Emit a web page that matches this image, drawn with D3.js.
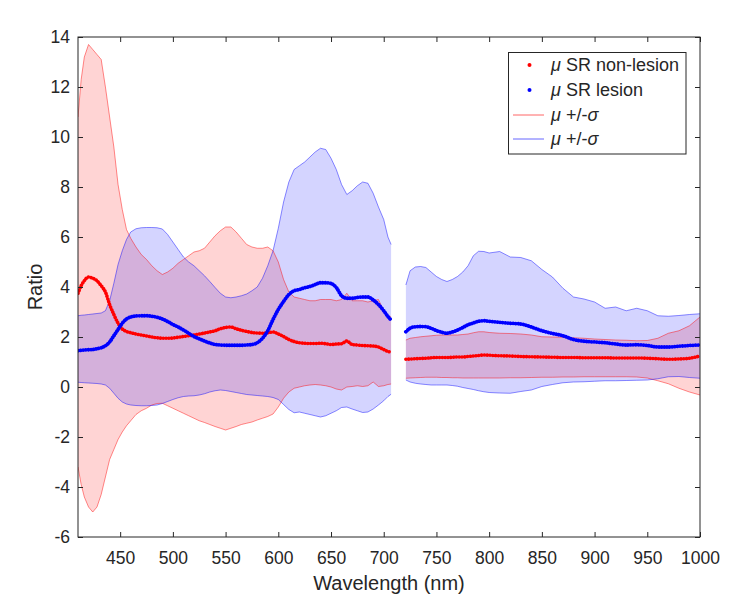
<!DOCTYPE html>
<html><head><meta charset="utf-8">
<script src="https://cdn.jsdelivr.net/npm/d3@7"></script>
<style>
body{margin:0;background:#fff}
svg{display:block}
text{font-family:Arial,"Liberation Sans",Helvetica,sans-serif;fill:#262626}
</style>
</head><body><svg id="c" width="754" height="613"></svg>
<script>
// ---- data ----
const wavelengthA = [410,413,416,420,424,428,432,436,440,444,448,452,456,460,465,470,475,480,485,490,495,500,505,510,515,520,525,530,535,540,545,550,555,560,565,570,575,580,585,590,595,600,605,610,615,620,625,630,635,640,645,650,655,660,665,670,675,680,685,690,695,700,704,707];
const nonLesionUpperA = [10.8,12.3,13.2,13.7,13.5,13.3,13.1,12.0,10.8,9.6,8.1,7.1,6.3,5.95,5.6,5.3,5.1,4.85,4.65,4.5,4.6,4.75,4.95,5.1,5.25,5.4,5.45,5.55,5.8,6.05,6.25,6.4,6.4,6.2,5.95,5.7,5.6,5.55,5.55,5.6,5.45,5.0,4.3,3.8,3.6,3.55,3.5,3.45,3.45,3.5,3.5,3.5,3.45,3.5,3.75,3.45,3.45,3.45,3.4,3.45,3.5,3.05,2.85,2.8];
const nonLesionLowerA = [-3.2,-3.9,-4.4,-4.8,-5.0,-4.8,-4.3,-3.6,-2.9,-2.5,-2.1,-1.8,-1.55,-1.35,-1.1,-0.95,-0.85,-0.72,-0.66,-0.65,-0.75,-0.85,-0.95,-1.05,-1.15,-1.25,-1.35,-1.42,-1.5,-1.58,-1.65,-1.72,-1.65,-1.58,-1.5,-1.45,-1.4,-1.32,-1.25,-1.18,-1.08,-0.8,-0.45,-0.2,-0.05,0.0,0.05,0.08,0.1,0.08,0.05,0.0,-0.08,-0.12,0.0,0.02,0.05,0.02,0.05,0.2,0.02,0.05,0.1,0.12];
const lesionUpperA = [2.85,2.87,2.88,2.9,2.92,2.94,2.96,3.05,3.45,4.15,4.9,5.45,5.9,6.2,6.33,6.37,6.38,6.38,6.37,6.32,6.1,5.8,5.5,5.2,5.0,4.85,4.65,4.45,4.22,3.98,3.75,3.6,3.57,3.6,3.65,3.72,3.85,4.0,4.35,4.85,5.45,6.35,7.4,8.2,8.7,8.85,9.0,9.2,9.4,9.55,9.5,9.15,8.7,8.1,7.7,7.85,8.05,8.2,8.15,7.75,7.2,6.7,6.0,5.7];
const lesionLowerA = [0.19,0.18,0.17,0.16,0.15,0.14,0.12,0.08,-0.05,-0.25,-0.45,-0.6,-0.68,-0.72,-0.74,-0.75,-0.75,-0.74,-0.72,-0.66,-0.58,-0.5,-0.43,-0.38,-0.36,-0.35,-0.32,-0.27,-0.2,-0.15,-0.12,-0.14,-0.18,-0.22,-0.26,-0.3,-0.32,-0.34,-0.36,-0.38,-0.42,-0.5,-0.7,-0.9,-1.03,-1.0,-1.05,-1.1,-1.15,-1.2,-1.15,-1.05,-0.95,-0.82,-0.8,-0.88,-0.95,-1.02,-1.0,-0.88,-0.72,-0.55,-0.38,-0.29];
const nonLesionMeanA = [3.75,4.05,4.25,4.4,4.35,4.25,4.05,3.8,3.3,2.9,2.55,2.32,2.22,2.17,2.12,2.08,2.04,2.0,1.97,1.95,1.95,1.96,1.99,2.02,2.05,2.08,2.12,2.16,2.2,2.25,2.33,2.38,2.4,2.33,2.27,2.22,2.18,2.16,2.15,2.17,2.2,2.12,2.02,1.9,1.82,1.77,1.75,1.74,1.74,1.75,1.73,1.7,1.72,1.73,1.84,1.7,1.68,1.66,1.65,1.64,1.6,1.5,1.42,1.4];
const lesionMeanA = [1.45,1.47,1.48,1.49,1.5,1.53,1.57,1.65,1.8,2.05,2.3,2.55,2.72,2.8,2.84,2.85,2.85,2.83,2.79,2.72,2.62,2.5,2.4,2.28,2.15,2.02,1.93,1.84,1.76,1.7,1.68,1.67,1.67,1.67,1.67,1.68,1.7,1.77,1.95,2.25,2.7,3.1,3.42,3.7,3.85,3.9,3.97,4.02,4.1,4.17,4.17,4.14,3.98,3.65,3.55,3.55,3.58,3.6,3.6,3.48,3.3,3.05,2.82,2.68];

const wavelengthB = [721,725,730,735,740,745,750,755,760,765,770,775,780,785,790,795,800,810,820,830,840,850,860,870,880,890,900,910,920,930,940,950,960,970,980,990,1000];
const nonLesionUpperB = [1.88,1.95,1.98,2.01,2.03,2.05,2.07,2.08,2.08,2.08,2.08,2.1,2.12,2.17,2.21,2.21,2.18,2.15,2.14,2.12,2.08,2.01,2.0,1.99,1.97,1.95,1.92,1.9,1.88,1.87,1.85,1.86,1.95,2.15,2.25,2.45,2.8];
const nonLesionLowerB = [0.35,0.36,0.37,0.38,0.39,0.39,0.39,0.38,0.38,0.37,0.37,0.36,0.36,0.36,0.36,0.36,0.36,0.36,0.37,0.37,0.38,0.39,0.39,0.4,0.4,0.41,0.41,0.41,0.41,0.41,0.4,0.36,0.25,0.13,-0.05,-0.2,-0.32];
const lesionUpperB = [4.08,4.65,4.8,4.82,4.78,4.6,4.42,4.3,4.22,4.3,4.42,4.6,4.85,5.25,5.43,5.42,5.36,5.42,5.2,5.18,5.05,4.7,4.4,3.95,3.6,3.52,3.4,3.15,3.2,3.05,3.15,3.05,2.85,2.83,2.86,2.9,2.93];
const lesionLowerB = [0.28,0.2,0.15,0.12,0.1,0.08,0.08,0.08,0.08,0.06,0.03,-0.02,-0.06,-0.1,-0.15,-0.19,-0.22,-0.24,-0.25,-0.18,-0.12,0.02,0.1,0.17,0.2,0.21,0.23,0.25,0.25,0.26,0.27,0.28,0.33,0.41,0.42,0.38,0.35];
const nonLesionMeanB = [1.11,1.12,1.13,1.14,1.15,1.17,1.18,1.18,1.18,1.19,1.2,1.2,1.22,1.24,1.26,1.28,1.27,1.25,1.24,1.22,1.21,1.2,1.19,1.18,1.18,1.17,1.17,1.17,1.16,1.16,1.16,1.15,1.13,1.11,1.12,1.15,1.24];
const lesionMeanB = [2.21,2.35,2.41,2.42,2.41,2.35,2.26,2.19,2.15,2.2,2.28,2.38,2.49,2.56,2.63,2.65,2.63,2.59,2.55,2.52,2.4,2.25,2.14,2.05,1.9,1.83,1.8,1.77,1.72,1.68,1.69,1.66,1.6,1.6,1.63,1.66,1.68];

const xTicks = [450,500,550,600,650,700,750,800,850,900,950,1000];
const yTicks = [-6,-4,-2,0,2,4,6,8,10,12,14];
const legendLabels = ["SR non-lesion","SR lesion","+/-","+/-"];

// ---- build ----
const svg = d3.select("#c");
const L = 78, R = 700, T = 37, B = 537;
const x = d3.scaleLinear().domain([410,1000]).range([L,R]);
const y = d3.scaleLinear().domain([-6,14]).range([B,T]);

const RED = "#ff0000", BLUE = "#0000ff";
const rows = (wl, ru, rl, bu, bl, rm, bm) => wl.map((w,i)=>({w, ru:ru[i], rl:rl[i], bu:bu[i], bl:bl[i], rm:rm[i], bm:bm[i]}));
const segments = [
  rows(wavelengthA, nonLesionUpperA, nonLesionLowerA, lesionUpperA, lesionLowerA, nonLesionMeanA, lesionMeanA),
  rows(wavelengthB, nonLesionUpperB, nonLesionLowerB, lesionUpperB, lesionLowerB, nonLesionMeanB, lesionMeanB)
];

svg.append("defs").append("clipPath").attr("id","clip")
  .append("rect").attr("x",L).attr("y",T).attr("width",R-L).attr("height",B-T);
const g = svg.append("g").attr("clip-path","url(#clip)");

const area = (hi, lo) => d3.area().x(d=>x(d.w)).y0(d=>y(d[lo])).y1(d=>y(d[hi]));
const line = k => d3.line().x(d=>x(d.w)).y(d=>y(d[k]));

segments.forEach(seg=>{
  g.append("path").attr("d", area("ru","rl")(seg)).attr("fill",RED).attr("fill-opacity",0.17).attr("stroke","none");
});
segments.forEach(seg=>{
  g.append("path").attr("d", area("bu","bl")(seg)).attr("fill",BLUE).attr("fill-opacity",0.17).attr("stroke","none");
});
segments.forEach(seg=>{
  ["ru","rl"].forEach(k=>g.append("path").attr("d", line(k)(seg)).attr("fill","none").attr("stroke",RED).attr("stroke-opacity",0.45).attr("stroke-width",1));
  ["bu","bl"].forEach(k=>g.append("path").attr("d", line(k)(seg)).attr("fill","none").attr("stroke",BLUE).attr("stroke-opacity",0.45).attr("stroke-width",1));
});
segments.forEach(seg=>{
  g.append("path").attr("d", line("rm").curve(d3.curveMonotoneX)(seg)).attr("fill","none")
    .attr("stroke",RED).attr("stroke-width",3.6).attr("stroke-linecap","round").attr("stroke-dasharray","0.01 2.8");
});
segments.forEach(seg=>{
  g.append("path").attr("d", line("bm").curve(d3.curveMonotoneX)(seg)).attr("fill","none")
    .attr("stroke",BLUE).attr("stroke-width",3.8).attr("stroke-linecap","round").attr("stroke-dasharray","0.01 2.6");
});

// ---- axes ----
const AX = "#262626";
const styleAxis = sel => { sel.select(".domain").remove(); sel.selectAll("line").attr("stroke",AX); sel.selectAll("text").attr("fill",AX).style("font-size","17.5px").style("font-family","Arial,'Liberation Sans',sans-serif"); };
svg.append("g").attr("transform",`translate(0,${B})`)
  .call(d3.axisBottom(x).tickValues(xTicks).tickSizeInner(-5).tickSizeOuter(0).tickPadding(15).tickFormat(d3.format("d"))).call(styleAxis);
svg.append("g").attr("transform",`translate(0,${T})`)
  .call(d3.axisTop(x).tickValues(xTicks).tickSizeInner(-5).tickSizeOuter(0).tickFormat("")).call(styleAxis);
svg.append("g").attr("transform",`translate(${L},0)`)
  .call(d3.axisLeft(y).tickValues(yTicks).tickSizeInner(-5).tickSizeOuter(0).tickPadding(8).tickFormat(d3.format("d"))).call(styleAxis);
svg.append("g").attr("transform",`translate(${R},0)`)
  .call(d3.axisRight(y).tickValues(yTicks).tickSizeInner(-5).tickSizeOuter(0).tickFormat("")).call(styleAxis);
svg.selectAll("text").filter(function(){return this.textContent.startsWith("−");}).text(function(){return this.textContent.replace("−","-");});

svg.append("rect").attr("x",L).attr("y",T).attr("width",R-L).attr("height",B-T)
  .attr("fill","none").attr("stroke",AX).attr("stroke-width",1);

svg.append("text").attr("x",(L+R)/2).attr("y",590).attr("text-anchor","middle")
  .style("font-size","20px").text("Wavelength (nm)");
svg.append("text").attr("transform","translate(42,287) rotate(-90)").attr("text-anchor","middle")
  .style("font-size","20px").text("Ratio");

// ---- legend ----
const lg = svg.append("g");
lg.append("rect").attr("x",508.5).attr("y",52.5).attr("width",177.5).attr("height",101.5)
  .attr("fill","#fff").attr("stroke",AX).attr("stroke-width",1);
const rowY = [65,90,115,139];
lg.append("circle").attr("cx",529.5).attr("cy",rowY[0]).attr("r",2).attr("fill",RED);
lg.append("circle").attr("cx",529.5).attr("cy",rowY[1]).attr("r",2).attr("fill",BLUE);
lg.append("line").attr("x1",513).attr("x2",544).attr("y1",rowY[2]).attr("y2",rowY[2]).attr("stroke",RED).attr("stroke-opacity",0.6);
lg.append("line").attr("x1",513).attr("x2",544).attr("y1",rowY[3]).attr("y2",rowY[3]).attr("stroke",BLUE).attr("stroke-opacity",0.6);
legendLabels.forEach((lab,i)=>{
  const t = lg.append("text").attr("x",551).attr("y",rowY[i]+6).style("font-size","18px");
  t.append("tspan").style("font-style","italic").text("\u03bc");
  t.append("tspan").text(" " + lab);
  if (i>=2) t.append("tspan").style("font-style","italic").text("\u03c3");
});
</script>
</body></html>
